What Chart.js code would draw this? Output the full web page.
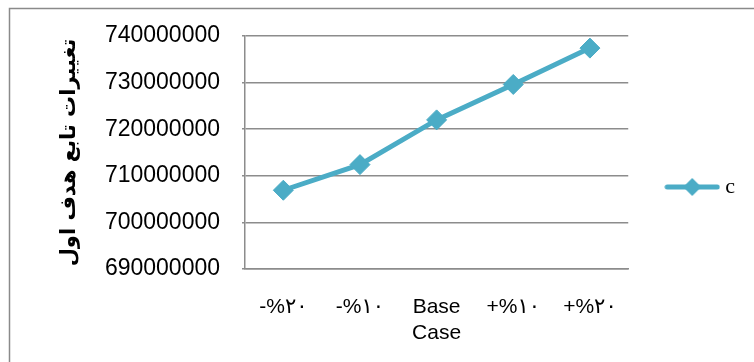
<!DOCTYPE html>
<html>
<head>
<meta charset="utf-8">
<script src="https://cdn.jsdelivr.net/npm/chart.js@4/dist/chart.umd.min.js"></script>
<style>
  html, body { margin: 0; padding: 0; background: #ffffff; }
  #wrap { width: 754px; height: 362px; }
</style>
</head>
<body>
<div id="wrap"><canvas id="c" width="754" height="362"></canvas></div>
<script>
// ---- data ----
const categories = ['-%۲۰', '-%۱۰', ['Base', 'Case'], '+%۱۰', '+%۲۰'];
const seriesName = 'c';
const seriesValues = [706900000, 712400000, 722000000, 729600000, 737400000];
const yTickValues = [690000000, 700000000, 710000000, 720000000, 730000000, 740000000];
const yTitle = 'تغییرات تابع هدف اول';

const lineColor = '#4BACC6';
const gridColor = '#8c8c8c';

// legend symbol: line with diamond
function legendSymbol() {
  const cv = document.createElement('canvas');
  cv.width = 56; cv.height = 22;
  const g = cv.getContext('2d');
  g.strokeStyle = lineColor; g.lineWidth = 5; g.lineCap = 'round';
  g.beginPath(); g.moveTo(3, 11); g.lineTo(53, 11); g.stroke();
  g.fillStyle = lineColor;
  g.beginPath(); g.moveTo(28 - 9, 11); g.lineTo(28, 2); g.lineTo(28 + 9, 11); g.lineTo(28, 20); g.closePath(); g.fill();
  return cv;
}

const frame = {
  id: 'frame',
  beforeDraw(chart) {
    const ctx = chart.ctx;
    ctx.save();
    ctx.fillStyle = '#ffffff';
    ctx.fillRect(0, 0, chart.width, chart.height);
    ctx.strokeStyle = '#8a8a8a';
    ctx.lineWidth = 1.5;
    ctx.strokeRect(9.5, 8.5, chart.width + 20, chart.height + 20);
    ctx.restore();
  }
};

new Chart(document.getElementById('c'), {
  type: 'line',
  data: {
    labels: categories,
    datasets: [{
      label: seriesName,
      data: seriesValues,
      borderColor: lineColor,
      backgroundColor: lineColor,
      borderWidth: 5,
      tension: 0,
      pointStyle: 'rectRot',
      pointRadius: 10,
      pointHoverRadius: 10,
      pointBorderWidth: 1,
      pointBackgroundColor: lineColor,
      pointBorderColor: lineColor
    }]
  },
  options: {
    responsive: false,
    animation: false,
    layout: { padding: { left: 9, top: 36, right: 9, bottom: 0 } },
    plugins: {
      tooltip: { enabled: false },
      legend: {
        position: 'right',
        fullSize: false,
        title: { display: true, text: '', font: { size: 10 }, padding: { top: 57, bottom: 0 } },
        labels: {
          usePointStyle: true,
          pointStyle: legendSymbol(),
          pointStyleWidth: 44,
          padding: 42,
          color: '#000',
          font: { family: "'Liberation Serif', 'Times New Roman', serif", size: 22 }
        }
      }
    },
    scales: {
      x: {
        type: 'category',
        offset: true,
        grid: { display: false, drawTicks: false, tickLength: 0 },
        border: { display: true, color: gridColor, width: 1.5 },
        ticks: {
          padding: 25,
          maxRotation: 0,
          autoSkip: false,
          color: '#000',
          font: { family: "'Liberation Sans', 'DejaVu Sans', sans-serif", size: 21, lineHeight: 1.24 }
        },
        afterFit(scale) { scale.height = 362 - 269; }
      },
      y: {
        min: yTickValues[0],
        max: yTickValues[yTickValues.length - 1],
        afterBuildTicks(scale) { scale.ticks = yTickValues.map(v => ({ value: v })); },
        grid: { color: gridColor, lineWidth: 1.5, drawTicks: true, tickLength: 3 },
        border: { display: true, color: gridColor, width: 1.5 },
        ticks: {
          padding: 22,
          color: '#000',
          font: { family: "'Liberation Sans', 'DejaVu Sans', sans-serif", size: 23 },
          callback: (v) => String(v)
        },
        title: {
          display: true,
          text: yTitle,
          color: '#000',
          padding: { top: 48, bottom: 0 },
          font: { family: "'DejaVu Sans', 'Noto Sans', sans-serif", size: 21, weight: 'bold' }
        },
        afterFit(scale) { scale.width = 245 - 9; }
      }
    }
  },
  plugins: [frame]
});
</script>
</body>
</html>
